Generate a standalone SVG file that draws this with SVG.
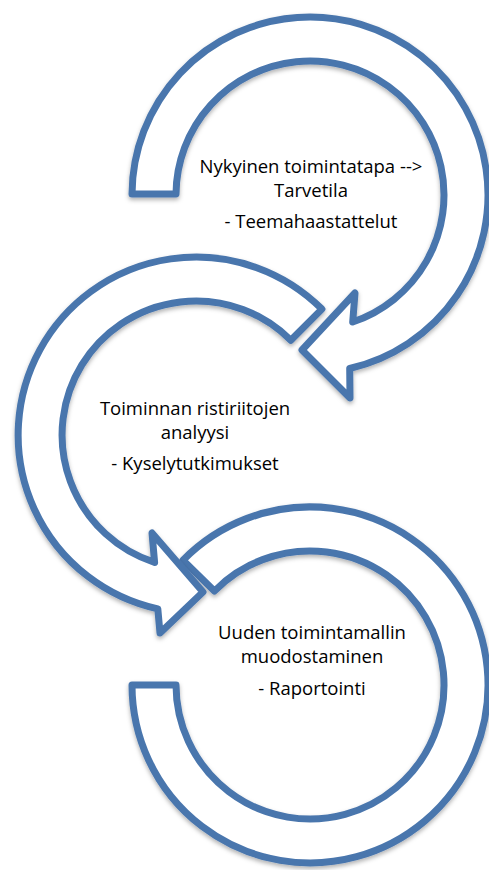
<svg xmlns="http://www.w3.org/2000/svg" width="489" height="870" viewBox="0 0 489 870">
  <defs>
    <filter id="sh" x="-10%" y="-10%" width="120%" height="120%">
      <feDropShadow dx="0" dy="2.5" stdDeviation="2" flood-color="#000" flood-opacity="0.3"/>
    </filter>
  </defs>
  <style>
    .arrow { fill: #ffffff; stroke: #4a76ad; stroke-width: 7; stroke-linejoin: round; filter: url(#sh); }
    .lbl { font-family: "Open Sans", "Liberation Sans", sans-serif; font-size: 18.5px; fill: #000; text-anchor: middle; }
  </style>
  <g id="connectors">
    <path id="arrow3" class="arrow" d="M132,685 A178,178 0 1 0 183,560.2 L214.4,591.1 A134,134 0 1 1 176,685 Z"/>
    <path id="arrow2" class="arrow" d="M321.9,309.1 A178,178 0 1 0 157.8,608.9 L160,633 L203,592 L152,533 L154.6,562.4 A134,134 0 1 1 290.8,340.2 Z"/>
    <path id="arrow1" class="arrow" d="M132,194 A178,178 0 1 1 349.7,368.5 L350,398 L302,350 L355,293 L352.7,322 A134,134 0 1 0 176,194 Z"/>
  </g>
  <g id="node1">
    <text class="lbl" x="311" y="173">Nykyinen toimintatapa --&gt;</text>
    <text class="lbl" x="311" y="197">Tarvetila</text>
    <text class="lbl" x="311" y="228">- Teemahaastattelut</text>
  </g>
  <g id="node2">
    <text class="lbl" x="195" y="415">Toiminnan ristiriitojen</text>
    <text class="lbl" x="195" y="439">analyysi</text>
    <text class="lbl" x="195" y="470">- Kyselytutkimukset</text>
  </g>
  <g id="node3">
    <text class="lbl" x="312" y="639">Uuden toimintamallin</text>
    <text class="lbl" x="312" y="663">muodostaminen</text>
    <text class="lbl" x="312" y="695">- Raportointi</text>
  </g>
</svg>
